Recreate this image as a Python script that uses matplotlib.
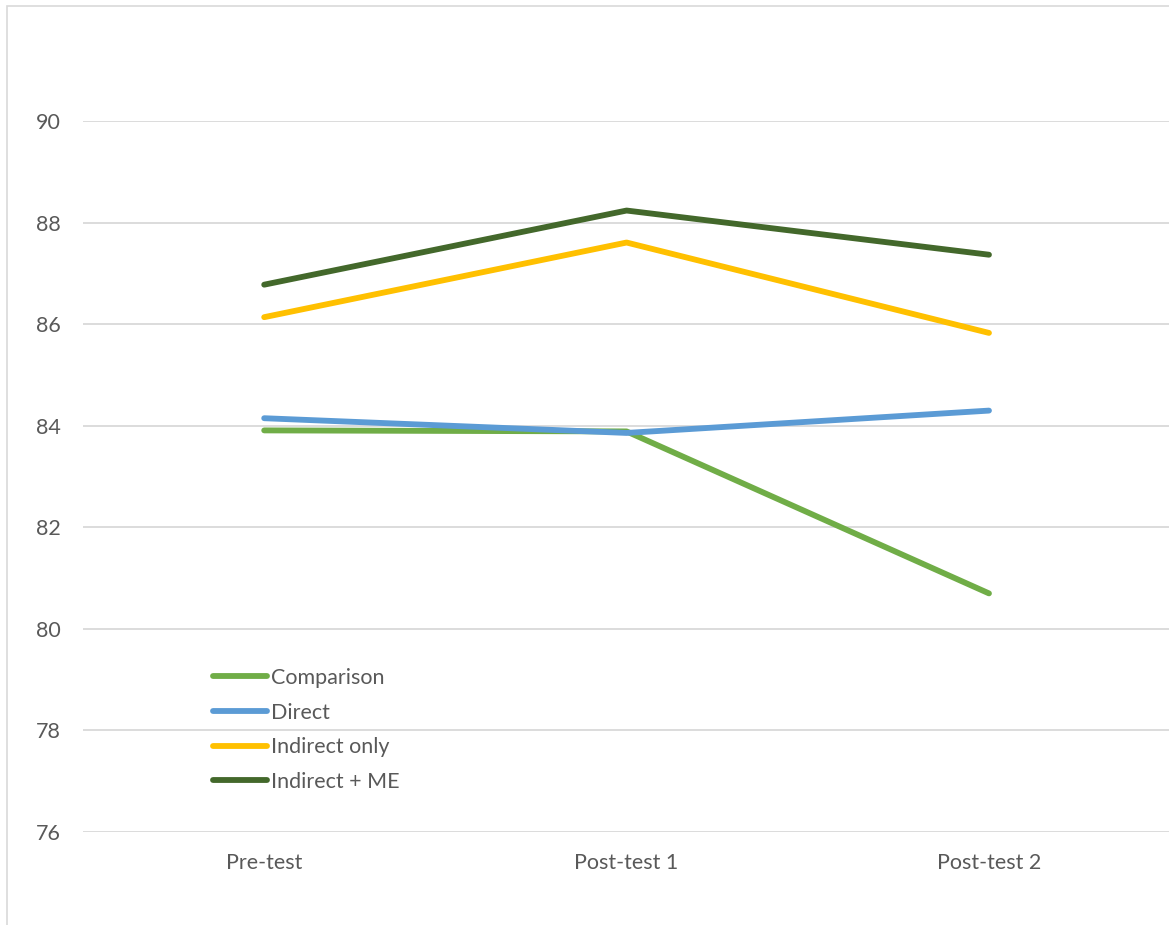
import matplotlib.pyplot as plt
from matplotlib.patches import Rectangle

categories = ["Pre-test", "Post-test 1", "Post-test 2"]
comparison = [83.91, 83.89, 80.70]
direct = [84.15, 83.86, 84.30]
indirect_only = [86.14, 87.61, 85.83]
indirect_me = [86.78, 88.24, 87.37]

series = [
    ("Comparison", comparison, "#70ad47"),
    ("Direct", direct, "#5b9bd5"),
    ("Indirect only", indirect_only, "#ffc000"),
    ("Indirect + ME", indirect_me, "#43682b"),
]

plt.rcParams["font.family"] = ["Lato", "DejaVu Sans"]

fig = plt.figure(figsize=(11.69, 9.25), dpi=100)
fig.patches.append(Rectangle((0.006, -0.01), 1.1, 1.003, transform=fig.transFigure,
                             fill=False, edgecolor="#d9d9d9", linewidth=1.2))
ax = fig.add_axes([0.071, 0.1005, 0.93, 0.7685])

x = range(len(categories))
for name, vals, color in series:
    ax.plot(x, vals, color=color, linewidth=4.2, label=name,
            solid_capstyle="round", solid_joinstyle="round")

ax.set_xlim(-0.5, 2.5)
ax.set_ylim(76, 90)
ax.set_yticks(range(76, 91, 2))
ax.set_xticks(list(x))
ax.set_xticklabels(categories)
ax.grid(axis="y", color="#d9d9d9", linewidth=1.3)
ax.set_axisbelow(True)
for s in ax.spines.values():
    s.set_visible(False)
ax.tick_params(length=0, colors="#595959", labelsize=15.5)
ax.tick_params(axis="y", pad=16)
ax.tick_params(axis="x", pad=15)

leg = ax.legend(loc="upper left", bbox_to_anchor=(0.1115, 0.243), frameon=False,
                fontsize=15.5, handlelength=2.5, handletextpad=0.2, labelspacing=0.68,
                borderaxespad=0)
for t in leg.get_texts():
    t.set_color("#595959")

fig.savefig("out.png", dpi=100)
